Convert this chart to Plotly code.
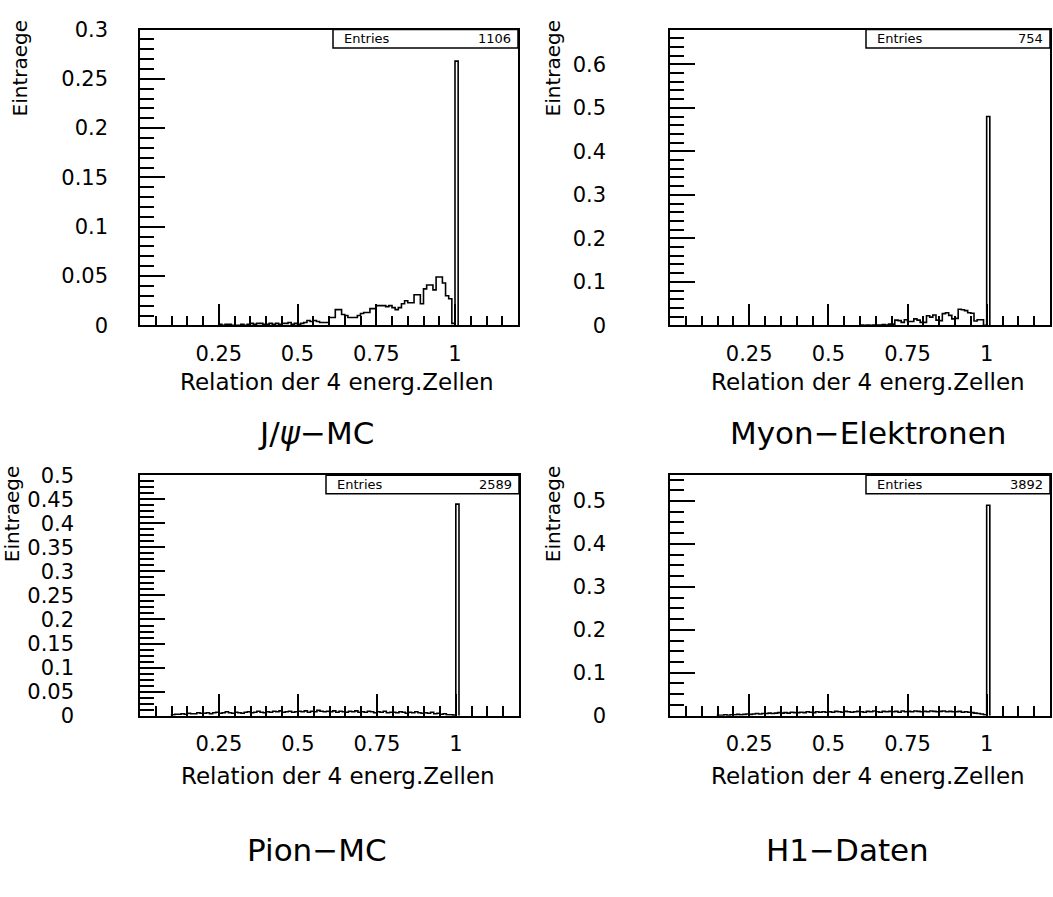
import plotly.graph_objects as go

BIN = 0.01

# ---- data (normalised histograms, bin width 0.01) ----
p1_start = 0.25
p1_vals = [0.001, 0.0, 0.001, 0.001, 0.0,
           0.0, 0.0, 0.001, 0.0, 0.001, 0.002, 0.001, 0.002, 0.002, 0.001,
           0.001, 0.002, 0.001, 0.002, 0.001, 0.002, 0.002, 0.003, 0.001, 0.002,
           0.001, 0.002, 0.003, 0.005, 0.004, 0.005, 0.004, 0.003, 0.003, 0.003,
           0.008, 0.008, 0.016, 0.016, 0.011, 0.010, 0.008, 0.008, 0.008, 0.010,
           0.012, 0.013, 0.013, 0.017, 0.017, 0.020, 0.020, 0.020, 0.019, 0.020,
           0.018, 0.016, 0.018, 0.022, 0.025, 0.023, 0.023, 0.031, 0.031, 0.022,
           0.037, 0.041, 0.041, 0.036, 0.049, 0.049, 0.043, 0.030, 0.027, 0.002,
           0.268]

p2_start = 0.60
p2_vals = [0.001, 0.0, 0.001, 0.0, 0.001, 0.001, 0.001, 0.002, 0.001, 0.003,
           0.003, 0.012, 0.011, 0.007, 0.013, 0.009, 0.009, 0.015, 0.012, 0.007,
           0.007, 0.022, 0.019, 0.024, 0.012, 0.011, 0.027, 0.029, 0.023, 0.015,
           0.016, 0.037, 0.036, 0.034, 0.029, 0.028, 0.010, 0.013, 0.013, 0.0,
           0.48]

p3_start = 0.10
p3_vals = [0.002, 0.003, 0.003, 0.004, 0.003, 0.005, 0.004, 0.004, 0.006, 0.005,
           0.005, 0.006, 0.004, 0.006, 0.007, 0.005, 0.006, 0.008, 0.006, 0.005,
           0.007, 0.006, 0.005, 0.007, 0.008, 0.006, 0.007, 0.009, 0.007, 0.006,
           0.008, 0.007, 0.009, 0.008, 0.010, 0.007, 0.008, 0.009, 0.007, 0.008,
           0.009, 0.008, 0.010, 0.007, 0.009, 0.008, 0.011, 0.009, 0.008, 0.009,
           0.008, 0.010, 0.007, 0.009, 0.008, 0.007, 0.009, 0.008, 0.010, 0.007,
           0.008, 0.007, 0.009, 0.008, 0.006, 0.008, 0.007, 0.009, 0.006, 0.007,
           0.007, 0.006, 0.008, 0.007, 0.005, 0.007, 0.006, 0.008, 0.006, 0.005,
           0.006, 0.005, 0.007, 0.004, 0.005, 0.003, 0.004, 0.002, 0.002, 0.001,
           0.44]

p4_start = 0.15
p4_vals = [0.001, 0.001, 0.002, 0.001, 0.002,
           0.002, 0.003, 0.002, 0.003, 0.004, 0.003, 0.004, 0.005, 0.004, 0.005,
           0.005, 0.006, 0.005, 0.006, 0.007, 0.006, 0.007, 0.006, 0.008, 0.007,
           0.007, 0.008, 0.007, 0.009, 0.008, 0.007, 0.009, 0.008, 0.009, 0.008,
           0.009, 0.008, 0.010, 0.009, 0.008, 0.010, 0.009, 0.008, 0.009, 0.010,
           0.009, 0.008, 0.010, 0.009, 0.011, 0.009, 0.008, 0.010, 0.009, 0.010,
           0.009, 0.010, 0.008, 0.011, 0.009, 0.010, 0.009, 0.011, 0.010, 0.009,
           0.010, 0.009, 0.011, 0.010, 0.009, 0.010, 0.011, 0.009, 0.010, 0.009,
           0.009, 0.010, 0.008, 0.009, 0.008, 0.007, 0.006, 0.005, 0.004, 0.002,
           0.49]

entries = ["1106", "754", "2589", "3892"]
subtitles = ["J/<i>ψ</i>−MC", "Myon−Elektronen", "Pion−MC", "H1−Daten"]
x_title = "Relation der 4 energ.Zellen"
y_title = "Eintraege"
x_tickvals = [0.25, 0.5, 0.75, 1.0]
x_ticktext = ["0.25", "0.5", "0.75", "1"]
y_ranges = [[0, 0.3], [0, 0.68], [0, 0.5], [0, 0.56]]
y_dticks = [0.05, 0.1, 0.05, 0.1]
y_minor = [0.01, 0.02, 0.0125, 0.025]

panels = [(p1_start, p1_vals), (p2_start, p2_vals), (p3_start, p3_vals), (p4_start, p4_vals)]

W, H = 1053, 897
# frames in pixels: (left, right, top, bottom)
frames = [(140, 518, 18, 322), (670, 1050, 18, 322),
          (140, 519, 476, 723), (670, 1050, 476, 723)]
label_standoff = [26, 58, 60, 58]
xlabel_standoff = [9, 9, 8, 8]
box_left_px = [333, 866, 326, 866]
box_h_px = 19
ytitle_x = [20, 553, 12, 553]
xtitle_off = [58, 58, 62, 62]
sub_off = [111, 111, 138, 138]

FONT = "DejaVu Sans"

fig = go.Figure()
for i, (start, vals) in enumerate(panels):
    n = len(vals)
    edges = [round(start + k * BIN, 4) for k in range(n + 1)]
    xs = [start] + edges[:n] + [edges[n]]
    ys = [0] + list(vals) + [0]
    ax = "" if i == 0 else str(i + 1)
    fig.add_trace(go.Scatter(x=xs, y=ys, mode="lines", line=dict(shape="hv", color="black", width=1.6),
                             xaxis="x" + ax, yaxis="y" + ax, showlegend=False, hoverinfo="skip"))

annotations = []
shapes = []
for i in range(4):
    l, r, t, b = frames[i]
    ax = "" if i == 0 else str(i + 1)
    xd = [l / W, r / W]
    yd = [1 - b / H, 1 - t / H]
    fig.update_layout(**{
        "xaxis" + ax: dict(domain=xd, range=[0, 1.2], anchor="y" + ax,
                          showline=True, mirror=True, linecolor="black", linewidth=1.5,
                          ticks="inside", ticklen=22, tickwidth=1.5, tickcolor="black",
                          tickvals=x_tickvals, ticktext=x_ticktext,
                          minor=dict(ticks="inside", ticklen=10, tickwidth=1.5, tickcolor="black",
                                     tick0=0, dtick=0.05, showgrid=False),
                          showgrid=False, zeroline=False, ticklabelstandoff=xlabel_standoff[i],
                          tickfont=dict(family=FONT, size=21, color="black"), fixedrange=True),
        "yaxis" + ax: dict(domain=yd, range=y_ranges[i], anchor="x" + ax,
                          showline=True, mirror=True, linecolor="black", linewidth=1.5,
                          ticks="inside", ticklen=25, tickwidth=1.5, tickcolor="black",
                          tick0=0, dtick=y_dticks[i],
                          minor=dict(ticks="inside", ticklen=14, tickwidth=1.5, tickcolor="black",
                                     tick0=0, dtick=y_minor[i], showgrid=False),
                          showgrid=False, zeroline=False, ticklabelstandoff=label_standoff[i],
                          tickfont=dict(family=FONT, size=21, color="black"), fixedrange=True),
    })
    # Entries box
    bl = (box_left_px[i] - l) / (r - l)
    bh = box_h_px / (b - t)
    shapes.append(dict(type="rect", xref="x" + ax + " domain", yref="y" + ax + " domain",
                       x0=bl, x1=1, y0=1 - bh, y1=1, line=dict(color="black", width=1.5)))
    annotations.append(dict(text="Entries", xref="x" + ax + " domain", yref="y" + ax + " domain",
                            x=bl, y=1 - bh / 2, xanchor="left", yanchor="middle", xshift=9,
                            showarrow=False, font=dict(family=FONT, size=13, color="black")))
    annotations.append(dict(text=entries[i], xref="x" + ax + " domain", yref="y" + ax + " domain",
                            x=1, y=1 - bh / 2, xanchor="right", yanchor="middle", xshift=-5,
                            showarrow=False, font=dict(family=FONT, size=13, color="black")))
    # axis titles / subtitle
    cx = (l + r) / 2 / W + 0.008
    annotations.append(dict(text=x_title, xref="paper", yref="paper", x=cx, y=1 - (b + xtitle_off[i]) / H,
                            xanchor="center", yanchor="middle", showarrow=False,
                            font=dict(family=FONT, size=23, color="black")))
    annotations.append(dict(text=subtitles[i], xref="paper", yref="paper", x=cx - 0.02 if i != 1 else cx,
                            y=1 - (b + sub_off[i]) / H,
                            xanchor="center", yanchor="middle", showarrow=False,
                            font=dict(family=FONT, size=31, color="black")))
    annotations.append(dict(text=y_title, xref="paper", yref="paper", x=ytitle_x[i] / W, y=1 - (t + 40) / H,
                            xanchor="center", yanchor="middle", textangle=-90, showarrow=False,
                            font=dict(family=FONT, size=20, color="black")))

fig.update_layout(width=W, height=H, autosize=False, margin=dict(l=0, r=0, t=0, b=0),
                  paper_bgcolor="white", plot_bgcolor="white",
                  shapes=shapes, annotations=annotations, showlegend=False)

fig.write_html("out.html")
